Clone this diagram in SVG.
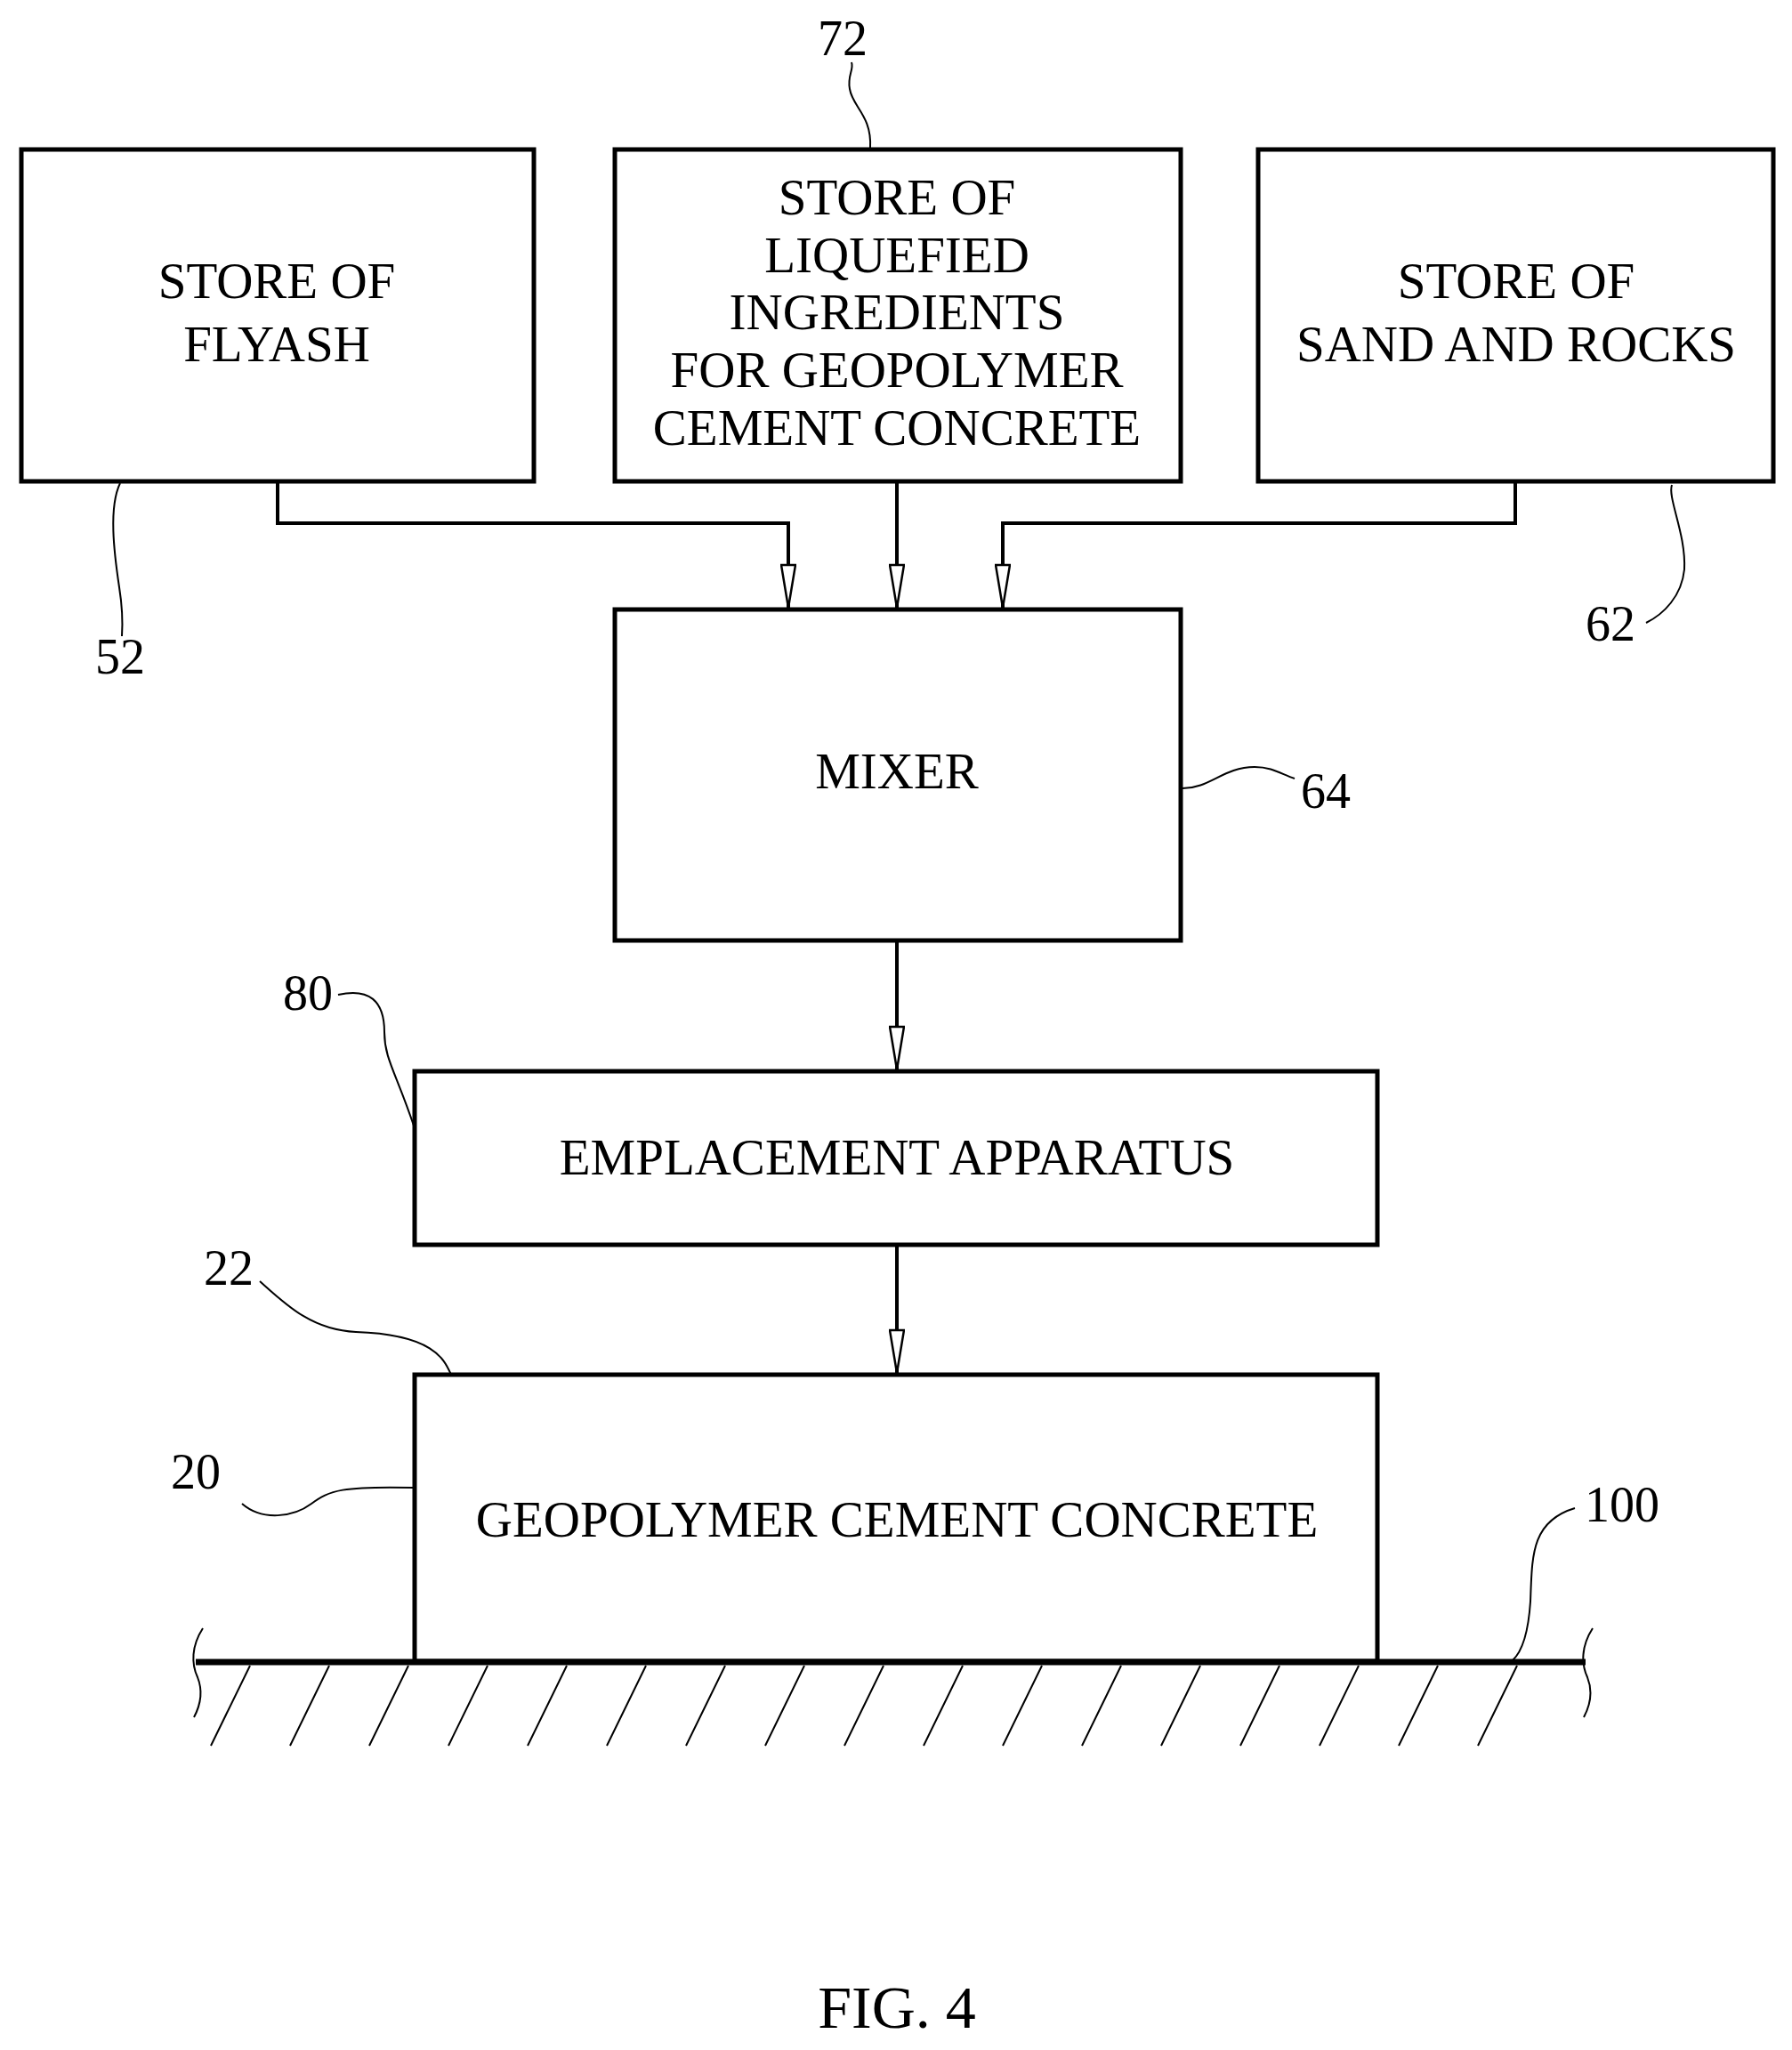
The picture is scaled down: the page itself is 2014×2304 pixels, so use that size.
<svg xmlns="http://www.w3.org/2000/svg" width="2014" height="2304" viewBox="0 0 2014 2304">
<defs>
<marker id="ah" markerWidth="52" markerHeight="18" refX="50" refY="9" orient="auto" markerUnits="userSpaceOnUse" viewBox="0 0 52 18">
<path d="M2,1 L2,17 L50,9 Z" fill="#fff" stroke="#000" stroke-width="2.5"/>
</marker>
<style>
.box{fill:#fff;stroke:#000;stroke-width:5}
.t{font-family:"Liberation Serif","Times New Roman",serif;font-size:57px;text-anchor:middle;fill:#000}
.n{font-family:"Liberation Serif","Times New Roman",serif;font-size:56px;fill:#000}
.c{fill:none;stroke:#000;stroke-width:4}
.l{fill:none;stroke:#000;stroke-width:2}
</style>
</defs>
<rect width="2014" height="2304" fill="#fff"/>
<g id="flyash"><rect class="box" x="24" y="168" width="576" height="373"/><text class="t" x="311" y="335">STORE OF</text><text class="t" x="311" y="406">FLYASH</text></g>
<g id="liquefied"><rect class="box" x="691" y="168" width="636" height="373"/>
<text class="t" x="1008" y="241">STORE OF</text><text class="t" x="1008" y="306">LIQUEFIED</text><text class="t" x="1008" y="370">INGREDIENTS</text><text class="t" x="1008" y="435">FOR GEOPOLYMER</text><text class="t" x="1008" y="500">CEMENT CONCRETE</text></g>
<g id="sand"><rect class="box" x="1414" y="168" width="579" height="373"/><text class="t" x="1704" y="335">STORE OF</text><text class="t" x="1704" y="406">SAND AND ROCKS</text></g>
<g id="mixer"><rect class="box" x="691" y="685" width="636" height="372"/><text class="t" x="1008" y="886">MIXER</text></g>
<g id="emplacement"><rect class="box" x="466" y="1204" width="1082" height="195"/><text class="t" x="1008" y="1320">EMPLACEMENT APPARATUS</text></g>
<g id="geopolymer"><rect class="box" x="466" y="1545" width="1082" height="322"/><text class="t" x="1008" y="1727">GEOPOLYMER CEMENT CONCRETE</text></g>
<g id="ground">
<line x1="220" y1="1868" x2="1782" y2="1868" stroke="#000" stroke-width="7"/>
<path class="l" d="M228,1830 C215,1850 215,1870 222,1885 C228,1900 226,1915 218,1930"/>
<path class="l" d="M1790,1830 C1777,1850 1777,1870 1784,1885 C1790,1900 1788,1915 1780,1930"/>
<g class="l">
<path d="M281,1872 L237,1962 M370,1872 L326,1962 M459,1872 L415,1962 M548,1872 L504,1962 M637,1872 L593,1962 M726,1872 L682,1962 M815,1872 L771,1962 M904,1872 L860,1962 M993,1872 L949,1962 M1082,1872 L1038,1962 M1171,1872 L1127,1962 M1260,1872 L1216,1962 M1349,1872 L1305,1962 M1438,1872 L1394,1962 M1527,1872 L1483,1962 M1616,1872 L1572,1962 M1705,1872 L1661,1962"/>
</g>
</g>
<g id="connectors">
<path class="c" d="M312,543 V588 H886 V683" marker-end="url(#ah)"/>
<path class="c" d="M1008,543 V683" marker-end="url(#ah)"/>
<path class="c" d="M1703,543 V588 H1127 V683" marker-end="url(#ah)"/>
<path class="c" d="M1008,1059 V1202" marker-end="url(#ah)"/>
<path class="c" d="M1008,1401 V1543" marker-end="url(#ah)"/>
</g>
<g id="labels">
<text class="n" x="947" y="62" text-anchor="middle">72</text>
<path class="l" d="M978,166 C980,130 958,120 955,100 C952,85 960,78 957,70"/>
<text class="n" x="135" y="757" text-anchor="middle">52</text>
<path class="l" d="M135,543 C122,570 128,620 134,660 C138,685 138,700 137,715"/>
<text class="n" x="1810" y="720" text-anchor="middle">62</text>
<path class="l" d="M1879,545 C1874,560 1895,600 1893,640 C1890,670 1870,690 1850,700"/>
<text class="n" x="1462" y="908">64</text>
<path class="l" d="M1329,886 C1360,886 1375,862 1410,862 C1430,862 1440,870 1455,875"/>
<text class="n" x="346" y="1135" text-anchor="middle">80</text>
<path class="l" d="M380,1118 C415,1110 432,1125 432,1160 C432,1190 445,1205 466,1268"/>
<text class="n" x="257" y="1444" text-anchor="middle">22</text>
<path class="l" d="M292,1440 C320,1465 350,1495 400,1497 C490,1500 500,1530 507,1545"/>
<text class="n" x="220" y="1673" text-anchor="middle">20</text>
<path class="l" d="M272,1690 C295,1710 330,1705 350,1690 C370,1675 385,1670 466,1672"/>
<text class="n" x="1823" y="1710" text-anchor="middle">100</text>
<path class="l" d="M1770,1695 C1720,1710 1722,1750 1720,1800 C1718,1830 1712,1855 1700,1866"/>
<text class="n" x="1008" y="2279" text-anchor="middle" style="font-size:68px">FIG. 4</text>
</g>
</svg>
